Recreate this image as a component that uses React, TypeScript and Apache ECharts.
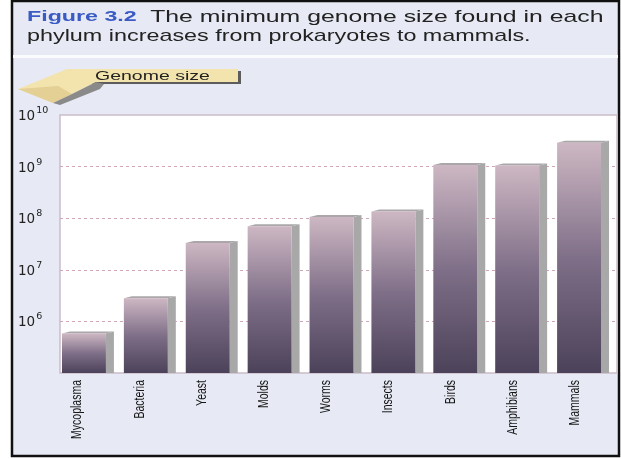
import React, { useEffect, useRef } from "react";
import * as echarts from "echarts";

const categories = ["Mycoplasma", "Bacteria", "Yeast", "Molds", "Worms", "Insects", "Birds", "Amphibians", "Mammals"];
const genomeSizes = [5.8e5, 2.8e6, 3.3e7, 7.0e7, 1.05e8, 1.35e8, 1.08e9, 1.05e9, 2.9e9];
const yTickExponents = [6, 7, 8, 9, 10];
const yMin = 1e5;
const yMax = 1e10;

const titleBold = "Figure 3.2";
const titleLine1 = "The minimum genome size found in each";
const titleLine2 = "phylum increases from prokaryotes to mammals.";
const arrowLabel = "Genome size";

export default function App() {
  const ref = useRef<HTMLDivElement>(null);
  useEffect(() => {
    if (!ref.current) return;
    const chart = echarts.init(ref.current, null, { renderer: "svg" });
    const data = categories.map((c, i) => [i, genomeSizes[i]]);
    const labelData = categories.map((c, i) => [i, yMin]);
    const option: any = {
      animation: false,
      graphic: [
        { type: "rect", z: -10, shape: { x: 12, y: 1, width: 607, height: 455 }, style: { fill: "#e7eaf4", stroke: "#111", lineWidth: 2.5 } },
        { type: "rect", z: -9, shape: { x: 13, y: 55, width: 605, height: 3 }, style: { fill: "#fafbfd" } },
        {
          type: "text", z: 10, x: 27, y: 8, scaleX: 1.55,
          style: {
            text: "{b|" + titleBold + "}  " + titleLine1,
            fontFamily: "Liberation Sans, Arial", fontSize: 16, fill: "#222", verticalAlign: "top",
            rich: { b: { fontFamily: "Liberation Sans, Arial", fontSize: 15, fontWeight: "bold", fill: "#3a5bc4" } },
          },
        },
        {
          type: "text", z: 10, x: 27, y: 27, scaleX: 1.46,
          style: { text: titleLine2, fontFamily: "Liberation Sans, Arial", fontSize: 16, fill: "#222", verticalAlign: "top" },
        },
        // arrow callout
        { type: "rect", z: 8, shape: { x: 86, y: 71, width: 155, height: 13 }, style: { fill: "#5c5c5c" } },
        { type: "polygon", z: 9, shape: { points: [[67, 69], [238, 69], [238, 82], [96, 82], [70, 95], [53, 103], [18, 89]] }, style: { fill: "#f3e4ae" } },
        { type: "polygon", z: 9, shape: { points: [[18, 89], [53, 103], [72, 94], [58, 86]] }, style: { fill: "#e4cf94" } },
        { type: "polygon", z: 9, shape: { points: [[53, 103], [70, 95], [96, 82], [104, 84], [100, 89], [60, 105]] }, style: { fill: "#8a8a8a" } },
        {
          type: "text", z: 10, x: 95, y: 76, scaleX: 1.5,
          style: { text: arrowLabel, fontFamily: "Liberation Sans, Arial", fontSize: 13, fill: "#222", verticalAlign: "middle" },
        },
      ],
      grid: [
        { left: 60, right: 4, top: 115, bottom: 86, show: true, backgroundColor: "#ffffff", borderColor: "#cbbdc7", borderWidth: 1.5 },
        { left: 45, right: 16, top: 115, bottom: 86 },
      ],
      xAxis: [
        { type: "category", gridIndex: 0, data: categories, show: false },
        { type: "category", gridIndex: 1, data: categories, show: false },
      ],
      yAxis: [
        {
          type: "log", gridIndex: 0, logBase: 10, min: yMin, max: yMax,
          axisLine: { show: false }, axisTick: { show: false },
          splitLine: { show: true, showMinLine: false, showMaxLine: false, lineStyle: { type: [3, 3], color: "#d3a6ba", width: 1 } },
          axisLabel: {
            align: "left", margin: 42,
            formatter: (v: number) => {
              const e = Math.round(Math.log10(v));
              return yTickExponents.includes(e) ? "{b|10}{s|" + e + "}" : "";
            },
            rich: {
              b: { fontFamily: "DejaVu Sans", fontSize: 13.5, color: "#222" },
              s: { fontFamily: "DejaVu Sans", fontSize: 9.5, color: "#222", padding: [0, 0, 11, 1] },
            },
          },
        },
        { type: "log", gridIndex: 1, logBase: 10, min: yMin, max: yMax, show: false },
      ],
      series: [
        {
          type: "custom", xAxisIndex: 0, yAxisIndex: 0, data, encode: { x: 0, y: 1 },
          renderItem: (params: any, api: any) => {
            const i = api.value(0);
            const v = api.value(1);
            const top = api.coord([i, v]);
            const bottom = api.coord([i, yMin]);
            const band = api.coord([1, v])[0] - api.coord([0, v])[0];
            const fw = band * 0.71;
            const l = top[0] - band * 0.468;
            const r = l + fw;
            const d = 8;
            const s = 2;
            return {
              type: "group",
              children: [
                { type: "polygon", shape: { points: [[r, top[1]], [r + d, top[1] - s], [r + d, bottom[1]], [r, bottom[1]]] }, style: { fill: "#a8a8a8" } },
                { type: "polygon", shape: { points: [[l, top[1]], [l + d, top[1] - s], [r + d, top[1] - s], [r, top[1]]] }, style: { fill: "#aaa6a9" } },
                {
                  type: "rect", shape: { x: l, y: top[1], width: fw, height: bottom[1] - top[1] },
                  style: {
                    fill: {
                      type: "linear", x: 0, y: 0, x2: 0, y2: 1,
                      colorStops: [
                        { offset: 0, color: "#cdb7c3" },
                        { offset: 0.5, color: "#7f6f88" },
                        { offset: 1, color: "#4b4259" },
                      ],
                    },
                  },
                },
              ],
            };
          },
        },
        {
          type: "custom", xAxisIndex: 1, yAxisIndex: 1, data: labelData, encode: { x: 0, y: 1 }, silent: true,
          renderItem: (params: any, api: any) => {
            const i = api.value(0);
            const p = api.coord([i, yMin]);
            return {
              type: "text",
              x: p[0],
              y: p[1] + 7,
              rotation: Math.PI / 2,
              scaleX: 0.7,
              style: {
                text: categories[i],
                fontFamily: "Liberation Sans, Arial",
                fontSize: 15,
                fill: "#151515",
                align: "right",
                verticalAlign: "middle",
              },
            };
          },
        },
      ],
    };
    chart.setOption(option);
    return () => chart.dispose();
  }, []);
  return <div ref={ref} style={{ position: "fixed", left: 0, top: 0, width: 621, height: 459 }} />;
}
